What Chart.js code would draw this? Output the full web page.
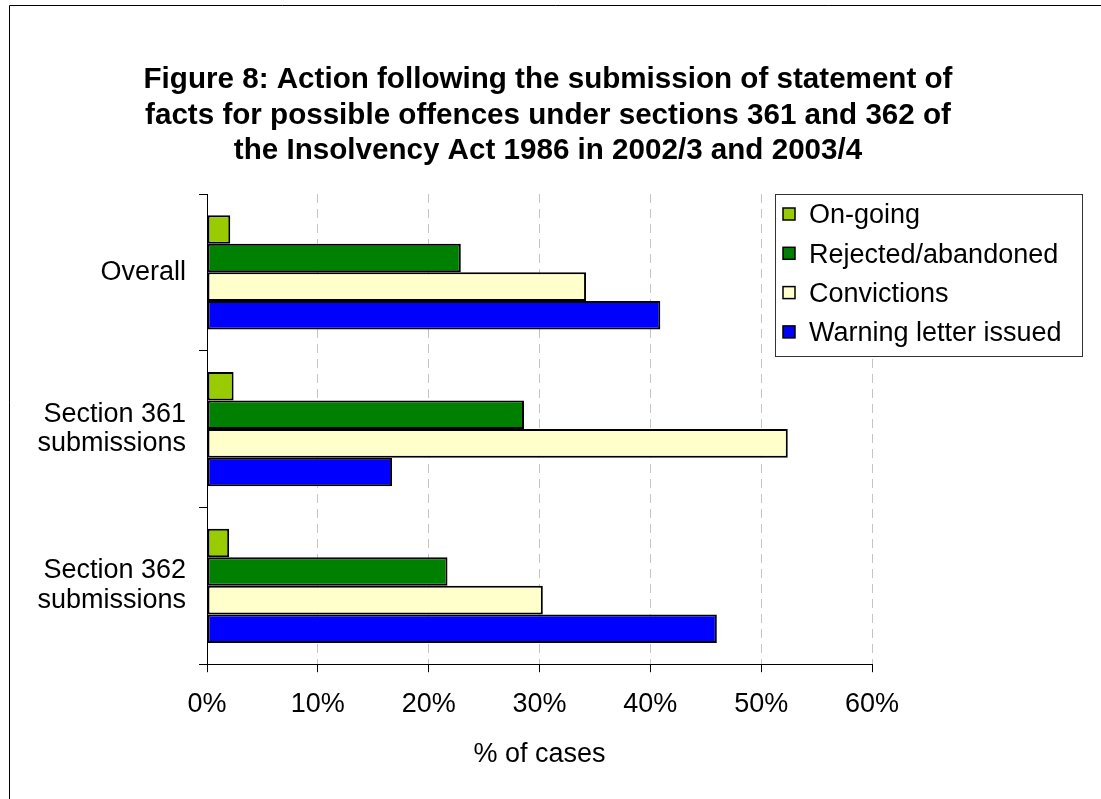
<!DOCTYPE html>
<html>
<head>
<meta charset="utf-8">
<script src="https://cdn.jsdelivr.net/npm/chart.js@4.4.0/dist/chart.umd.min.js"></script>
<style>
    body { margin: 0; background: #fff; }
    canvas { display: block; }
</style>
</head>
<body>
<canvas id="actionChart" width="1101" height="799"></canvas>
<script>
// chart data
var titleLines = [
    'Figure 8: Action following the submission of statement of',
    'facts for possible offences under sections 361 and 362 of',
    'the Insolvency Act 1986 in 2002/3 and 2003/4'
];
var categories = ['Overall', ['Section 361', 'submissions'], ['Section 362', 'submissions']];
var seriesNames = ['On-going', 'Rejected/abandoned', 'Convictions', 'Warning letter issued'];
var onGoing = [2.1, 2.4, 2.0];
var rejected = [22.9, 28.6, 21.7];
var convictions = [34.2, 52.4, 30.3];
var warningLetter = [40.9, 16.7, 46.0];
var seriesColors = ['#99CC00', '#008000', '#FFFFCC', '#0000FF'];
var xTickMax = 60;
var xTickStep = 10;
var xAxisTitle = '% of cases';

document.addEventListener("DOMContentLoaded", function () {
    Chart.defaults.font.family = '"Liberation Sans", Arial, sans-serif';
    Chart.defaults.color = '#000';

    var ctx = document.getElementById('actionChart').getContext('2d');

    // title, frame and boxed legend drawn on top of the chart
    var extras = {
        id: 'extras',
        afterDraw: function (chart) {
            var c = chart.ctx;
            c.save();
            // outer frame (only left and top edges are inside the picture)
            c.strokeStyle = '#000';
            c.lineWidth = 1;
            c.beginPath();
            c.moveTo(9.5, chart.height);
            c.lineTo(9.5, 5.5);
            c.lineTo(chart.width, 5.5);
            c.stroke();

            // title
            c.fillStyle = '#000';
            c.font = 'bold 29.6px "Liberation Sans", Arial, sans-serif';
            c.textAlign = 'center';
            c.textBaseline = 'middle';
            titleLines.forEach(function (line, i) {
                c.fillText(line, 548, 80 + i * 35.5);
            });

            // legend
            var lx = 775, ly = 194, lw = 307, lh = 162;
            c.fillStyle = '#fff';
            c.fillRect(lx, ly, lw, lh);
            c.strokeStyle = '#333';
            c.lineWidth = 1;
            c.strokeRect(lx + 0.5, ly + 0.5, lw, lh);
            c.font = '27px "Liberation Sans", Arial, sans-serif';
            c.textAlign = 'left';
            chart.data.datasets.forEach(function (ds, i) {
                var cy = ly + 20 + i * 39.3;
                c.fillStyle = ds.backgroundColor;
                c.fillRect(lx + 8, cy - 6, 12, 12);
                c.strokeStyle = '#000';
                c.lineWidth = 1.5;
                c.strokeRect(lx + 8, cy - 6, 12, 12);
                c.fillStyle = '#000';
                c.fillText(ds.label, lx + 34, cy + 2);
            });
            c.restore();
        }
    };

    var seriesValues = [onGoing, rejected, convictions, warningLetter];

    var chart = new Chart(ctx, {
        type: 'bar',
        data: {
            labels: categories,
            datasets: seriesNames.map(function (name, i) {
                return {
                    label: name,
                    data: seriesValues[i],
                    backgroundColor: seriesColors[i],
                    borderColor: '#000',
                    borderWidth: 2,
                    borderSkipped: false,
                    categoryPercentage: 0.73,
                    barPercentage: 1.0
                };
            })
        },
        options: {
            indexAxis: 'y',
            responsive: false,
            animation: false,
            layout: {
                padding: { top: 194, right: 229, bottom: 26, left: 0 }
            },
            scales: {
                x: {
                    min: 0,
                    max: xTickMax,
                    ticks: {
                        stepSize: xTickStep,
                        padding: 16,
                        font: { size: 27 },
                        color: '#000',
                        callback: function (value) {
                            return value + '%';
                        }
                    },
                    grid: {
                        color: '#c4c4c4',
                        lineWidth: 1,
                        tickColor: '#000',
                        tickLength: 8
                    },
                    border: {
                        color: '#000',
                        width: 1,
                        dash: [9, 6]
                    },
                    title: {
                        display: true,
                        text: xAxisTitle,
                        font: { size: 27 },
                        color: '#000',
                        padding: { top: 2, bottom: 2 }
                    }
                },
                y: {
                    ticks: {
                        padding: 13,
                        font: { size: 27, lineHeight: 1.1 },
                        color: '#000'
                    },
                    grid: {
                        offset: true,
                        drawOnChartArea: false,
                        tickColor: '#000',
                        tickLength: 8
                    },
                    border: {
                        color: '#000',
                        width: 1
                    },
                    afterFit: function (scale) {
                        scale.width = 207;
                    }
                }
            },
            plugins: {
                legend: { display: false },
                title: { display: false },
                tooltip: { enabled: false }
            }
        },
        plugins: [extras]
    });
});
</script>
</body>
</html>
